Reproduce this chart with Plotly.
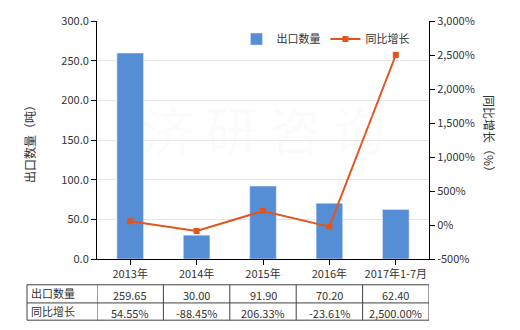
import plotly.graph_objects as go

categories = ["2013年", "2014年", "2015年", "2016年", "2017年1-7月"]
export_qty = [259.65, 30.00, 91.90, 70.20, 62.40]
yoy_growth = [54.55, -88.45, 206.33, -23.61, 2500.00]
qty_labels = ["259.65", "30.00", "91.90", "70.20", "62.40"]
growth_labels = ["54.55%", "-88.45%", "206.33%", "-23.61%", "2,500.00%"]
left_ticks = [0, 50, 100, 150, 200, 250, 300]
left_tick_text = ["0.0", "50.0", "100.0", "150.0", "200.0", "250.0", "300.0"]
right_ticks = [-500, 0, 500, 1000, 1500, 2000, 2500, 3000]
right_tick_text = ["-500%", "0%", "500%", "1,000%", "1,500%", "2,000%", "2,500%", "3,000%"]
row_names = ["出口数量", "同比增长"]

FONT = "Noto Sans CJK SC"
TXT = "#333333"
BAR = "#558ED5"
LINE = "#E0561E"

fig = go.Figure()
fig.add_trace(go.Bar(x=categories, y=export_qty, name="出口数量", marker_color=BAR,
                     width=0.4, yaxis="y"))
fig.add_trace(go.Scatter(x=categories, y=yoy_growth, name="同比增长", mode="lines+markers",
                         line=dict(color=LINE, width=2),
                         marker=dict(symbol="square", size=6, color=LINE), yaxis="y2"))

W, H = 520, 330
L, R, T, B = 97, 91, 19, 71
fig.update_layout(
    width=W, height=H,
    margin=dict(l=L, r=R, t=T, b=B, pad=0),
    paper_bgcolor="white", plot_bgcolor="white",
    font=dict(family=FONT, size=11, color=TXT),
    showlegend=True,
    legend=dict(orientation="h", x=0.42, y=0.985, xanchor="left", yanchor="top",
                bgcolor="rgba(0,0,0,0)", font=dict(size=11, color=TXT),
                itemwidth=30, tracegroupgap=0),
    xaxis=dict(type="category", showline=True, linecolor="black", linewidth=1,
               ticks="outside", ticklen=5, tickcolor="black", showgrid=False,
               tickfont=dict(size=11, color=TXT), range=[-0.5, 4.5]),
    yaxis=dict(range=[0, 300], tickvals=left_ticks, ticktext=left_tick_text,
               showline=True, linecolor="black", linewidth=1, ticks="outside",
               ticklen=5, tickcolor="black", showgrid=True, gridcolor="#E6E6E6",
               zeroline=False, tickfont=dict(size=11, color=TXT)),
    yaxis2=dict(range=[-500, 3000], tickvals=right_ticks, ticktext=right_tick_text,
                overlaying="y", side="right", showline=True, linecolor="black",
                linewidth=1, ticks="outside", ticklen=5, tickcolor="black",
                showgrid=False, zeroline=False, tickfont=dict(size=11, color=TXT)),
    bargap=0.6,
)

pw, ph = W - L - R, H - T - B

def py(ypix):
    return (H - ypix - B) / ph

def px(xpix):
    return (xpix - L) / pw

annotations = []
shapes = []
# watermark
annotations.append(dict(text="济 研 咨 询", x=0.5, y=0.55, xref="paper", yref="paper",
                        xanchor="center", yanchor="middle", showarrow=False,
                        font=dict(size=52, color="rgba(225,225,225,0.12)", family=FONT)))
# axis titles
annotations.append(dict(text="出口数量（吨）", x=px(30), y=py(140), xref="paper", yref="paper",
                        xanchor="center", yanchor="middle", showarrow=False, textangle=-90,
                        font=dict(size=12, color=TXT)))
annotations.append(dict(text="同比增长（%）", x=px(490), y=py(135), xref="paper", yref="paper",
                        xanchor="center", yanchor="middle", showarrow=False, textangle=90,
                        font=dict(size=12, color=TXT)))

row_tops = [285, 303.3, 320.7]
tbl_left = 27
for yy in row_tops:
    shapes.append(dict(type="line", xref="paper", yref="paper", x0=px(tbl_left), x1=1,
                       y0=py(yy), y1=py(yy), line=dict(color="#404040", width=1)))
shapes.append(dict(type="line", xref="paper", yref="paper", x0=px(tbl_left), x1=px(tbl_left),
                   y0=py(row_tops[0]), y1=py(row_tops[-1]), line=dict(color="#404040", width=1)))
for i in range(len(categories) + 1):
    shapes.append(dict(type="line", xref="x", yref="paper", x0=i - 0.5, x1=i - 0.5,
                       y0=py(row_tops[0]), y1=py(row_tops[-1]), line=dict(color="#404040", width=1)))

row_centers = [(row_tops[0] + row_tops[1]) / 2 + 1, (row_tops[1] + row_tops[2]) / 2 + 1]
for r, name in enumerate(row_names):
    annotations.append(dict(text=name, x=px(tbl_left + 2), y=py(row_centers[r] - 2), xref="paper",
                            yref="paper", xanchor="left", yanchor="middle", showarrow=False,
                            font=dict(size=11, color=TXT)))
for i, c in enumerate(categories):
    annotations.append(dict(text=qty_labels[i], x=c, y=py(row_centers[0]), xref="x", yref="paper",
                            xanchor="center", yanchor="middle", showarrow=False,
                            font=dict(size=11, color=TXT)))
    annotations.append(dict(text=growth_labels[i], x=c, y=py(row_centers[1]), xref="x", yref="paper",
                            xanchor="center", yanchor="middle", showarrow=False,
                            font=dict(size=11, color=TXT)))

fig.update_layout(annotations=annotations, shapes=shapes)
fig.write_html("out.html")
